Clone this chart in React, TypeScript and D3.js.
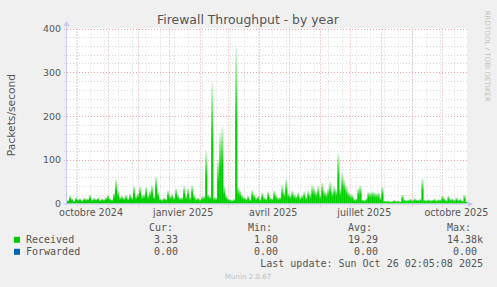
import React from "react";
import * as d3 from "d3";

const TITLE = "Firewall Throughput - by year";
const Y_LABEL = "Packets/second";
const START = new Date(Date.UTC(2024, 8, 21, 12));
const END = new Date(Date.UTC(2025, 9, 26, 2, 5));
const STEP_DAYS = 2;

// Received packets/second, one value per 2 days
const received: number[] = [
  8, 18, 12, 6, 14, 10, 12, 8, 13, 11,
  12, 20, 10, 13, 11, 14, 9, 12, 10, 15,
  20, 12, 10, 25, 55, 30, 16, 18, 14, 20,
  12, 22, 15, 40, 18, 25, 40, 20, 22, 38,
  20, 30, 42, 18, 62, 28, 12, 10, 14, 11,
  30, 18, 22, 15, 35, 20, 14, 15, 40, 18,
  35, 15, 42, 20, 12, 14, 10, 16, 18, 120,
  22, 18, 278, 15, 14, 100, 160, 175, 40, 20,
  12, 10, 8, 11, 358, 38, 30, 20, 15, 12,
  18, 10, 31, 22, 14, 18, 10, 25, 15, 12,
  28, 15, 12, 30, 20, 14, 16, 42, 26, 55,
  25, 20, 30, 22, 18, 26, 15, 20, 28, 16,
  30, 22, 42, 35, 28, 40, 20, 48, 30, 25,
  35, 50, 28, 40, 32, 115, 35, 69, 54, 40,
  28, 22, 20, 10, 12, 35, 42, 10, 8, 12,
  27, 25, 28, 26, 24, 26, 15, 38, 7, 6,
  7, 5, 6, 8, 6, 7, 5, 20, 10, 8,
  9, 11, 8, 12, 10, 9, 11, 57, 9, 8,
  10, 8, 9, 11, 8, 10, 9, 18, 12, 8,
  18, 10, 12, 8, 14, 9, 11, 7, 20, 5,
];

const xTickMonths = ["2024-10-01", "2025-01-01", "2025-04-01", "2025-07-01", "2025-10-01"];
const xTickLabels = ["octobre 2024", "janvier 2025", "avril 2025", "juillet 2025", "octobre 2025"];
const yTicks = [0, 100, 200, 300, 400];

const legendNames = ["Received", "Forwarded"];
const legendColors = ["#00cc00", "#0066b3"];
const curVals = ["3.33", "0.00"];
const minVals = ["1.80", "0.00"];
const avgVals = ["19.29", "0.00"];
const maxVals = ["14.38k", "0.00 "];
const LAST_UPDATE = "Last update: Sun Oct 26 02:05:08 2025";
const VERSION = "Munin 2.0.67";
const WATERMARK = "RRDTOOL / TOBI OETIKER";

const W = 497;
const H = 287;
const PL = 67;
const PR = 467;
const PT = 28.5;
const PB = 203.5;

export default function App() {
  const x = d3.scaleUtc().domain([START, END]).range([PL, PR]);
  const y = d3.scaleLinear().domain([0, 400]).range([PB, PT]);

  const dates = received.map((_, i) => d3.utcDay.offset(START, i * STEP_DAYS));
  const cols = received.map((v, i) => {
    const x0 = x(dates[i]);
    const x1 = i < received.length - 1 ? x(dates[i + 1]) : x(END);
    return { x0, x1, v };
  });

  const minorY = d3.range(0, 401, 20);
  const majorMonths = d3.utcMonth.range(START, END);
  const minorDays = d3.utcDay.range(new Date(Date.UTC(2024, 8, 30)), END, 14);

  const axisColor = "#c8c8f4";
  const minorColor = "#d9d9d9";
  const majorColor = "#ecaaaa";
  const textColor = "#555555";
  const sans = "'DejaVu Sans', sans-serif";
  const mono = "'DejaVu Sans Mono', monospace";

  return (
    <svg width={W} height={H} style={{ position: "absolute", left: 0, top: 0, background: "#f0f0f0" }}>
      <defs>
        <linearGradient id="colGrad" x1="0" y1="0" x2="0" y2="1">
          <stop offset="0" stopColor="#00cc00" stopOpacity={0.1} />
          <stop offset="0.3" stopColor="#00cc00" stopOpacity={0.65} />
          <stop offset="0.5" stopColor="#00cc00" stopOpacity={1} />
          <stop offset="1" stopColor="#00cc00" stopOpacity={1} />
        </linearGradient>
      </defs>
      <rect x={0} y={0} width={W} height={H} fill="#f0f0f0" />
      <rect x={PL} y={PT} width={PR - PL} height={PB - PT} fill="#ffffff" />

      {/* grid */}
      {minorY.filter((v) => v % 100 !== 0).map((v) => (
        <line key={"my" + v} x1={PL - 3} x2={PR} y1={Math.round(y(v)) + 0.5} y2={Math.round(y(v)) + 0.5}
          stroke={minorColor} strokeDasharray="1,2" />
      ))}
      {minorDays.map((d, i) => (
        <line key={"md" + i} x1={Math.round(x(d)) + 0.5} x2={Math.round(x(d)) + 0.5} y1={PT} y2={PB + 2}
          stroke={minorColor} strokeDasharray="1,2" />
      ))}
      {yTicks.filter((v) => v > 0).map((v) => (
        <line key={"My" + v} x1={PL - 3} x2={PR} y1={Math.round(y(v)) + 0.5} y2={Math.round(y(v)) + 0.5}
          stroke={majorColor} strokeDasharray="1,2" />
      ))}
      {majorMonths.map((d, i) => (
        <line key={"Md" + i} x1={Math.round(x(d)) + 0.5} x2={Math.round(x(d)) + 0.5} y1={PT} y2={PB + 3}
          stroke={majorColor} strokeDasharray="1,2" />
      ))}

      {/* data */}
      {cols.map((c, i) => (
        <rect key={"c" + i} x={c.x0} width={c.x1 - c.x0 + 0.2} y={y(c.v)} height={PB - y(c.v)}
          fill="url(#colGrad)" />
      ))}

      {/* axes */}
      <line x1={PL - 0.5} x2={PL - 0.5} y1={PB + 2} y2={24} stroke={axisColor} />
      <path d={`M${PL - 3.5},${26} L${PL - 0.5},${21} L${PL + 2.5},${26} Z`} fill={axisColor} />
      <line x1={PL - 3} x2={PR + 3} y1={PB + 0.5} y2={PB + 0.5} stroke={axisColor} />
      <path d={`M${PR + 1},${PB - 2.5} L${PR + 6},${PB + 0.5} L${PR + 1},${PB + 3.5} Z`} fill={axisColor} />

      {/* y ticks */}
      {yTicks.map((v) => (
        <text key={"yt" + v} x={61} y={y(v) + 3.5} textAnchor="end" fontFamily={sans} fontSize={9.4} fill={textColor}>
          {v}
        </text>
      ))}
      {/* x tick labels */}
      {xTickMonths.map((m, i) => {
        const d = d3.utcHour.offset(new Date(m + "T00:00:00Z"), 348);
        return (
          <text key={"xt" + i} x={x(d)} y={215.5} textAnchor="middle" fontFamily={sans} fontSize={9.6} fill={textColor}>
            {xTickLabels[i]}
          </text>
        );
      })}

      {/* titles */}
      <text x={248} y={23.5} textAnchor="middle" fontFamily={sans} fontSize={12.4} fill={textColor}>{TITLE}</text>
      <text transform={`translate(14.5,115) rotate(-90)`} textAnchor="middle" fontFamily={sans} fontSize={10.7} fill={textColor}>
        {Y_LABEL}
      </text>
      <text transform={`translate(485,102) rotate(90)`} textAnchor="end" fontFamily={sans} fontSize={7.1} fill="#c4c4c4">
        {WATERMARK}
      </text>

      {/* legend */}
      {["Cur:", "Min:", "Avg:", "Max:"].map((h, i) => (
        <text key={"h" + i} x={[149, 248, 348, 447][i]} y={231} fontFamily={mono} fontSize={10} fill={textColor}>{h}</text>
      ))}
      {legendNames.map((n, i) => {
        const yy = 243.3 + i * 12;
        return (
          <g key={"lg" + i}>
            <rect x={14} y={yy - 6.5} width={6} height={6} fill={legendColors[i]} />
            <text x={26} y={yy} fontFamily={mono} fontSize={10} fill={textColor}>{n}</text>
            <text x={178} y={yy} textAnchor="end" fontFamily={mono} fontSize={10} fill={textColor}>{curVals[i]}</text>
            <text x={278} y={yy} textAnchor="end" fontFamily={mono} fontSize={10} fill={textColor}>{minVals[i]}</text>
            <text x={378} y={yy} textAnchor="end" fontFamily={mono} fontSize={10} fill={textColor}>{avgVals[i]}</text>
            <text x={483} y={yy} textAnchor="end" fontFamily={mono} fontSize={10} fill={textColor} style={{ whiteSpace: "pre" }}>{maxVals[i]}</text>
          </g>
        );
      })}
      <text x={483} y={267} textAnchor="end" fontFamily={mono} fontSize={10} fill={textColor}>{LAST_UPDATE}</text>
      <text x={248} y={279} textAnchor="middle" fontFamily={sans} fontSize={7.1} fill="#c0c0c0">{VERSION}</text>
    </svg>
  );
}
